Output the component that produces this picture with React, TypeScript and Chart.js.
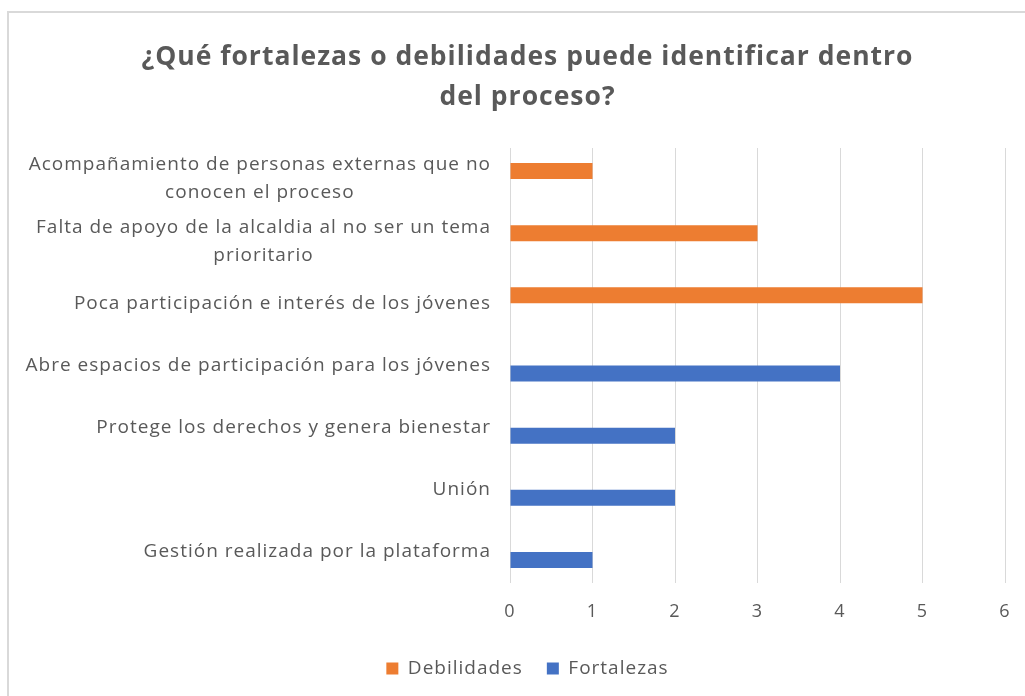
import React, { useEffect, useRef } from "react";
import { Chart, registerables } from "chart.js";

Chart.register(...registerables);

const categories: (string | string[])[] = [
  ["Acompañamiento de personas externas que no", "conocen el proceso"],
  ["Falta de apoyo de la alcaldia al no ser un tema", "prioritario"],
  "Poca participación e interés de los jóvenes",
  "Abre espacios de participación para los jóvenes",
  "Protege los derechos y genera bienestar",
  "Unión",
  "Gestión realizada por la plataforma",
];
const debilidades: (number | null)[] = [1, 3, 5, null, null, null, null];
const fortalezas: (number | null)[] = [null, null, null, 4, 2, 2, 1];
const xTicks = [0, 1, 2, 3, 4, 5, 6];
const titleLines = [
  "¿Qué fortalezas o debilidades puede identificar dentro",
  "del proceso?",
];

const TEXT = "#595959";
const FONT = "'Open Sans', Lato, sans-serif";

const spacingPlugin = {
  id: "spacing",
  beforeLayout(chart: any) {
    chart.ctx.letterSpacing = "1px";
  },
  beforeDraw(chart: any) {
    chart.ctx.letterSpacing = "1px";
  },
};

const yLabelPlugin = {
  id: "yLabels",
  afterDraw(chart: any) {
    const y = chart.scales.y;
    const ctx = chart.ctx;
    ctx.save();
    ctx.letterSpacing = "1px";
    ctx.font = `19px ${FONT}`;
    ctx.fillStyle = TEXT;
    ctx.textBaseline = "middle";
    ctx.textAlign = "center";
    const lineH = 28;
    const right = y.right - 19;
    (chart.data.labels as (string | string[])[]).forEach((lab, i) => {
      const lines = Array.isArray(lab) ? lab : [lab];
      const maxW = Math.max(...lines.map((l) => ctx.measureText(l).width));
      const cy = y.getPixelForTick(i);
      lines.forEach((l, j) => {
        ctx.fillText(l, right - maxW / 2, cy + (j - (lines.length - 1) / 2) * lineH);
      });
    });
    ctx.restore();
  },
};

export default function App() {
  const ref = useRef<HTMLCanvasElement>(null);
  useEffect(() => {
    if (!ref.current) return;
    const chart = new Chart(ref.current, {
      type: "bar",
      data: {
        labels: categories as any,
        datasets: [
          {
            label: "Debilidades",
            data: debilidades,
            backgroundColor: "#ED7D31",
            categoryPercentage: 0.516,
            barPercentage: 1,
          },
          {
            label: "Fortalezas",
            data: fortalezas,
            backgroundColor: "#4472C4",
            categoryPercentage: 0.516,
            barPercentage: 1,
          },
        ],
      },
      options: {
        indexAxis: "y",
        animation: false,
        responsive: false,
        layout: { padding: { left: 50, right: 20, top: 0, bottom: 8 } },
        scales: {
          x: {
            min: 0,
            max: 6,
            afterBuildTicks: (s: any) => {
              s.ticks = xTicks.map((v) => ({ value: v }));
            },
            grid: {
              color: "#D9D9D9",
              drawTicks: true,
              tickLength: 18,
              tickColor: "transparent",
              lineWidth: 1,
            },
            border: { display: false },
            ticks: {
              color: TEXT,
              font: { family: FONT, size: 18 },
              padding: 0,
            },
            afterFit: (s: any) => {
              s.height = 52;
            },
          },
          y: {
            grid: { display: false },
            border: { display: false },
            ticks: { color: "transparent", font: { family: FONT, size: 18 } },
            afterFit: (s: any) => {
              s.width = 460;
            },
          },
        },
        plugins: {
          title: {
            display: true,
            text: titleLines,
            color: TEXT,
            font: { family: FONT, size: 26.5, weight: "bold", lineHeight: "40px" } as any,
            padding: { top: 37, bottom: 31 },
          },
          legend: {
            position: "bottom",
            labels: {
              color: TEXT,
              font: { family: FONT, size: 19 },
              boxWidth: 12,
              boxHeight: 12,
              padding: 24,
            },
          },
          tooltip: { enabled: false },
        },
      },
      plugins: [spacingPlugin, yLabelPlugin],
    });
    return () => chart.destroy();
  }, []);
  return (
    <div
      style={{
        position: "fixed",
        left: 0,
        top: 0,
        width: 1025,
        height: 696,
        background: "#fff",
        overflow: "hidden",
      }}
    >
      <div
        style={{
          position: "absolute",
          left: 7,
          top: 11,
          width: 1040,
          height: 720,
          border: "2px solid #D9D9D9",
        }}
      />
      <canvas
        ref={ref}
        width={1025}
        height={696}
        style={{ position: "absolute", left: 0, top: 0 }}
      />
    </div>
  );
}
